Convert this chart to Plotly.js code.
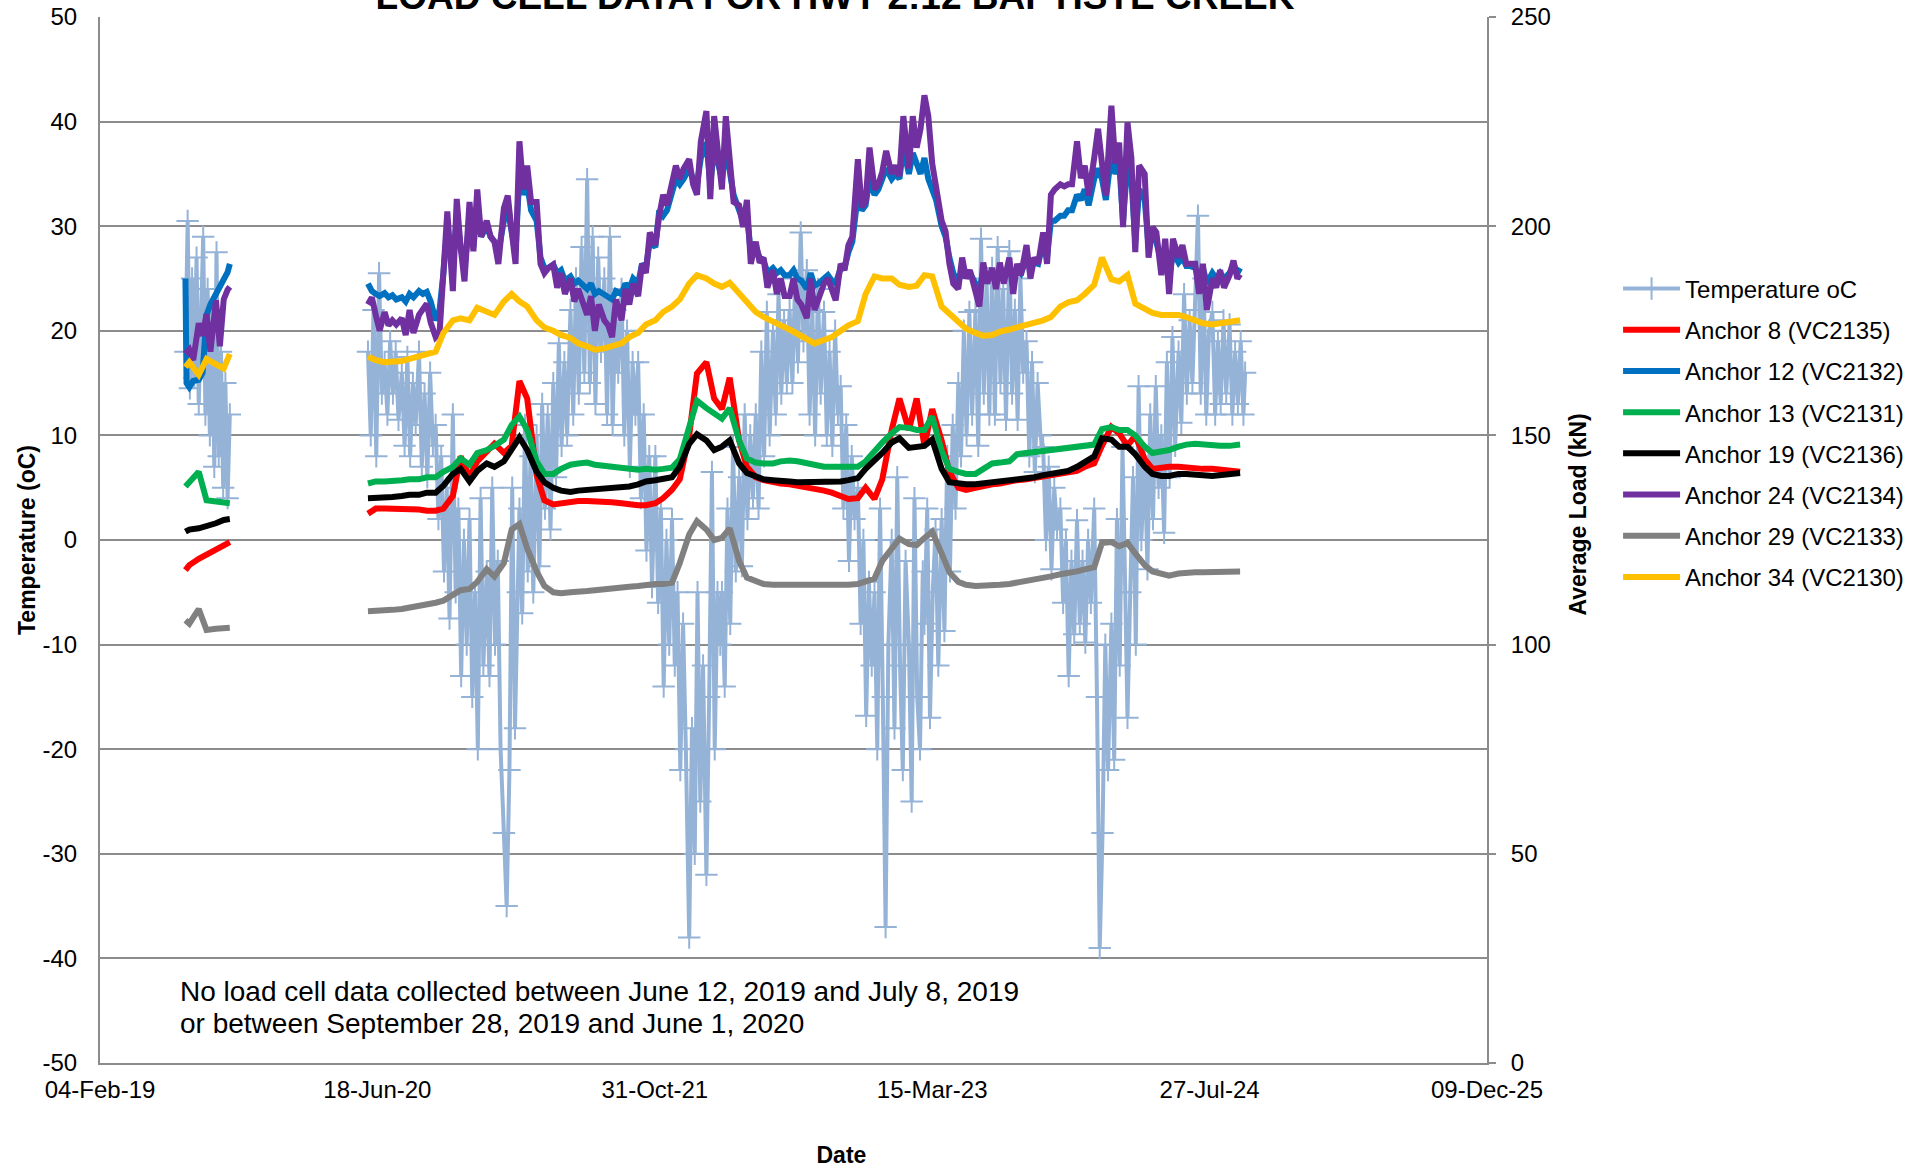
<!DOCTYPE html>
<html>
<head>
<meta charset="utf-8">
<script src="https://cdn.plot.ly/plotly-3.0.1.min.js"></script>
<style>html,body{margin:0;padding:0;background:#fff;}#chart{width:1925px;height:1173px;}</style>
</head>
<body>
<div id="chart"></div>
<script>
// ---------- Temperature (oC), left axis ----------
const tempDates = [
'2019-07-08','2019-07-12','2019-07-16','2019-07-20','2019-07-24','2019-07-28','2019-08-01','2019-08-05','2019-08-09','2019-08-13','2019-08-17','2019-08-21','2019-08-25','2019-08-29','2019-09-02','2019-09-06','2019-09-10','2019-09-14','2019-09-18','2019-09-22','2019-09-26',
'2020-01-01',
'2020-06-01','2020-06-06','2020-06-11','2020-06-16','2020-06-21','2020-06-26',
'2020-07-01','2020-07-06','2020-07-11','2020-07-16','2020-07-21','2020-07-26',
'2020-08-01','2020-08-06','2020-08-11','2020-08-16','2020-08-21','2020-08-26',
'2020-09-01','2020-09-06','2020-09-11','2020-09-16','2020-09-21','2020-09-26',
'2020-10-01','2020-10-06','2020-10-11','2020-10-16','2020-10-21','2020-10-26',
'2020-11-01','2020-11-06','2020-11-11','2020-11-16','2020-11-21','2020-11-26',
'2020-12-01','2020-12-06','2020-12-11','2020-12-16','2020-12-21','2020-12-26',
'2021-01-01','2021-01-06','2021-01-11','2021-01-16','2021-01-21','2021-01-26',
'2021-02-01','2021-02-06','2021-02-11','2021-02-16','2021-02-21','2021-02-26',
'2021-03-01','2021-03-06','2021-03-11','2021-03-16','2021-03-21','2021-03-26',
'2021-04-01','2021-04-06','2021-04-11','2021-04-16','2021-04-21','2021-04-26',
'2021-05-01','2021-05-06','2021-05-11','2021-05-16','2021-05-21','2021-05-26',
'2021-06-01','2021-06-06','2021-06-11','2021-06-16','2021-06-21','2021-06-26',
'2021-07-01','2021-07-06','2021-07-11','2021-07-16','2021-07-21','2021-07-26',
'2021-08-01','2021-08-06','2021-08-11','2021-08-16','2021-08-21','2021-08-26',
'2021-09-01','2021-09-06','2021-09-11','2021-09-16','2021-09-21','2021-09-26',
'2021-10-01','2021-10-06','2021-10-11','2021-10-16','2021-10-21','2021-10-26',
'2021-11-01','2021-11-06','2021-11-11','2021-11-16','2021-11-21','2021-11-26',
'2021-12-01','2021-12-06','2021-12-11','2021-12-16','2021-12-21','2021-12-26',
'2022-01-01','2022-01-06','2022-01-11','2022-01-16','2022-01-21','2022-01-26',
'2022-02-01','2022-02-06','2022-02-11','2022-02-16','2022-02-21','2022-02-26',
'2022-03-01','2022-03-06','2022-03-11','2022-03-16','2022-03-21','2022-03-26',
'2022-04-01','2022-04-06','2022-04-11','2022-04-16','2022-04-21','2022-04-26',
'2022-05-01','2022-05-06','2022-05-11','2022-05-16','2022-05-21','2022-05-26',
'2022-06-01','2022-06-06','2022-06-11','2022-06-16','2022-06-21','2022-06-26',
'2022-07-01','2022-07-06','2022-07-11','2022-07-16','2022-07-21','2022-07-26',
'2022-08-01','2022-08-06','2022-08-11','2022-08-16','2022-08-21','2022-08-26',
'2022-09-01','2022-09-06','2022-09-11','2022-09-16','2022-09-21','2022-09-26',
'2022-10-01','2022-10-06','2022-10-11','2022-10-16','2022-10-21','2022-10-26',
'2022-11-01','2022-11-06','2022-11-11','2022-11-16','2022-11-21','2022-11-26',
'2022-12-01','2022-12-06','2022-12-11','2022-12-16','2022-12-21','2022-12-26',
'2023-01-01','2023-01-06','2023-01-11','2023-01-16','2023-01-21','2023-01-26',
'2023-02-01','2023-02-06','2023-02-11','2023-02-16','2023-02-21','2023-02-26',
'2023-03-01','2023-03-06','2023-03-11','2023-03-16','2023-03-21','2023-03-26',
'2023-04-01','2023-04-06','2023-04-11','2023-04-16','2023-04-21','2023-04-26',
'2023-05-01','2023-05-06','2023-05-11','2023-05-16','2023-05-21','2023-05-26',
'2023-06-01','2023-06-06','2023-06-11','2023-06-16','2023-06-21','2023-06-26',
'2023-07-01','2023-07-06','2023-07-11','2023-07-16','2023-07-21','2023-07-26',
'2023-08-01','2023-08-06','2023-08-11','2023-08-16','2023-08-21','2023-08-26',
'2023-09-01','2023-09-06','2023-09-11','2023-09-16','2023-09-21','2023-09-26',
'2023-10-01','2023-10-06','2023-10-11','2023-10-16','2023-10-21','2023-10-26',
'2023-11-01','2023-11-06','2023-11-11','2023-11-16','2023-11-21','2023-11-26',
'2023-12-01','2023-12-06','2023-12-11','2023-12-16','2023-12-21','2023-12-26',
'2024-01-01','2024-01-06','2024-01-11','2024-01-16','2024-01-21','2024-01-26',
'2024-02-01','2024-02-06','2024-02-11','2024-02-16','2024-02-21','2024-02-26',
'2024-03-01','2024-03-06','2024-03-11','2024-03-16','2024-03-21','2024-03-26',
'2024-04-01','2024-04-06','2024-04-11','2024-04-16','2024-04-21','2024-04-26',
'2024-05-01','2024-05-06','2024-05-11','2024-05-16','2024-05-21','2024-05-26',
'2024-06-01','2024-06-06','2024-06-11','2024-06-16','2024-06-21','2024-06-26',
'2024-07-01','2024-07-06','2024-07-11','2024-07-16','2024-07-21','2024-07-26',
'2024-08-01','2024-08-06','2024-08-11','2024-08-16','2024-08-21','2024-08-26',
'2024-09-01','2024-09-06','2024-09-11','2024-09-16','2024-09-21','2024-09-26','2024-09-29'
];
const tempValues = [
18,30.5,14.5,25,15.5,27,13,22,29,12,24,10,22,7,27.5,8,18,5,15,4,12,
null,
18,10,22,8,25.5,14,
17,12,19,14,18,11.5,
16,9,17.5,8,15,11,
18,7,14,6,16,9,
11,2,8,-3,5,-7.5,
12,-5,3,-13,0,-10,
2,-15,-5,-20,4,-12,
-3,-13,5,-10,-2,-20,
-28,-35,-22,5,-18,-5,
3,-7,11,-3,8,-5,
10,-2.5,13,3,12,1,
15,6,18.8,9,17,10,
22,12,25,14,28,16,
34.5,15,29,13,27,18,
25,12,29,11,22,16,
24,10,20,7,17,12,
17,4,12,-1,8,-4.5,
8,-6,3,-14,0,-10,
2,-12,-5,-22,-8,-20,
-38,-18,-30,-5,-25,-12,
-32,-15,6.5,-20,-5,-10,
-5,-14,3,-8,8.9,-3,
6,-2.5,12,2,10,4,
12,3,18,8,21.8,10,
20,12,23.5,14,21,15,
22,15,25,17,29.4,19,
25.8,12,22,10,24,14,
21.8,10,18,9,20,12,
14.7,3,11,-2,8,2,
5,-8,0,-16.8,-4,-12,
-5,-20,3,-15,-37,-10,
0,-18,6,-12,-22,-2,
-10,-25,4,-15,-20,-3,
-8,3,-17,-5,1,-12,
2,-8.7,8,-3,11,3,
15,8,20,10,21.8,12,
22,9,28.8,14,25,12,
26,12,28,15,24,11.5,
27.6,14,22,11.5,25,16,
19,8,17,6.5,15,10,
8.9,0,7,-2.8,5,1,
3,-6,0,-13,-2,-9,
1.9,-8,-2,-9.8,0,-6,
3,-15,-39,-28,-10,-22,
-8,-21,2,-12,8.9,-5,
-17,-5,6,-10,14.7,0,
8,-2.8,12,2,14.7,5,
10,0.7,17,6,19.4,9,
18,11.2,23.5,14,21,15,
22,31,14,25,12,20,
21.8,12,19,13,21,14,
20.6,12,18,13,19,12,16
];

// ---------- Anchor loads (kN), right axis ----------
const halfDates = [
'2019-07-08','2019-07-15','2019-08-01','2019-08-15','2019-09-01','2019-09-15','2019-09-26',
'2020-01-01',
'2020-06-01','2020-06-15','2020-07-01','2020-07-15','2020-08-01','2020-08-15','2020-09-01','2020-09-15','2020-10-01','2020-10-15','2020-11-01','2020-11-15','2020-12-01','2020-12-15',
'2021-01-01','2021-01-15','2021-02-01','2021-02-15','2021-03-01','2021-03-15','2021-04-01','2021-04-15','2021-05-01','2021-05-15','2021-06-01','2021-06-15','2021-07-01','2021-07-15','2021-08-01','2021-08-15','2021-09-01','2021-09-15','2021-10-01','2021-10-15','2021-11-01','2021-11-15','2021-12-01','2021-12-15',
'2022-01-01','2022-01-15','2022-02-01','2022-02-15','2022-03-01','2022-03-15','2022-04-01','2022-04-15','2022-05-01','2022-05-15','2022-06-01','2022-06-15','2022-07-01','2022-07-15','2022-08-01','2022-08-15','2022-09-01','2022-09-15','2022-10-01','2022-10-15','2022-11-01','2022-11-15','2022-12-01','2022-12-15',
'2023-01-01','2023-01-15','2023-02-01','2023-02-15','2023-03-01','2023-03-15','2023-04-01','2023-04-15','2023-05-01','2023-05-15','2023-06-01','2023-06-15','2023-07-01','2023-07-15','2023-08-01','2023-08-15','2023-09-01','2023-09-15','2023-10-01','2023-10-15','2023-11-01','2023-11-15','2023-12-01','2023-12-15',
'2024-01-01','2024-01-15','2024-02-01','2024-02-15','2024-03-01','2024-03-15','2024-04-01','2024-04-15','2024-05-01','2024-05-15','2024-06-01','2024-06-15','2024-07-01','2024-07-15','2024-08-01','2024-08-15','2024-09-01','2024-09-15','2024-09-20'
];
const weekDates = [
'2019-07-08','2019-07-10','2019-07-15','2019-07-22','2019-08-01','2019-08-08','2019-08-15','2019-08-22','2019-09-01','2019-09-08','2019-09-15','2019-09-22','2019-09-26',
'2020-01-01',
'2020-06-01','2020-06-08','2020-06-15','2020-06-22','2020-07-01','2020-07-08','2020-07-15','2020-07-22','2020-08-01','2020-08-08','2020-08-15','2020-08-22','2020-09-01','2020-09-08','2020-09-15','2020-09-22','2020-10-01','2020-10-08','2020-10-15','2020-10-22','2020-11-01','2020-11-08','2020-11-15','2020-11-22','2020-12-01','2020-12-08','2020-12-15','2020-12-22',
'2021-01-01','2021-01-08','2021-01-15','2021-01-22','2021-02-01','2021-02-08','2021-02-15','2021-02-22','2021-03-01','2021-03-08','2021-03-15','2021-03-22','2021-04-01','2021-04-08','2021-04-15','2021-04-22','2021-05-01','2021-05-08','2021-05-15','2021-05-22','2021-06-01','2021-06-08','2021-06-15','2021-06-22','2021-07-01','2021-07-08','2021-07-15','2021-07-22','2021-08-01','2021-08-08','2021-08-15','2021-08-22','2021-09-01','2021-09-08','2021-09-15','2021-09-22','2021-10-01','2021-10-08','2021-10-15','2021-10-22','2021-11-01','2021-11-08','2021-11-15','2021-11-22','2021-12-01','2021-12-08','2021-12-15','2021-12-22',
'2022-01-01','2022-01-08','2022-01-15','2022-01-22','2022-02-01','2022-02-08','2022-02-15','2022-02-22','2022-03-01','2022-03-08','2022-03-15','2022-03-22','2022-04-01','2022-04-08','2022-04-15','2022-04-22','2022-05-01','2022-05-08','2022-05-15','2022-05-22','2022-06-01','2022-06-08','2022-06-15','2022-06-22','2022-07-01','2022-07-08','2022-07-15','2022-07-22','2022-08-01','2022-08-08','2022-08-15','2022-08-22','2022-09-01','2022-09-08','2022-09-15','2022-09-22','2022-10-01','2022-10-08','2022-10-15','2022-10-22','2022-11-01','2022-11-08','2022-11-15','2022-11-22','2022-12-01','2022-12-08','2022-12-15','2022-12-22',
'2023-01-01','2023-01-08','2023-01-15','2023-01-22','2023-02-01','2023-02-08','2023-02-15','2023-02-22','2023-03-01','2023-03-08','2023-03-15','2023-03-22','2023-04-01','2023-04-08','2023-04-15','2023-04-22','2023-05-01','2023-05-08','2023-05-15','2023-05-22','2023-06-01','2023-06-08','2023-06-15','2023-06-22','2023-07-01','2023-07-08','2023-07-15','2023-07-22','2023-08-01','2023-08-08','2023-08-15','2023-08-22','2023-09-01','2023-09-08','2023-09-15','2023-09-22','2023-10-01','2023-10-08','2023-10-15','2023-10-22','2023-11-01','2023-11-08','2023-11-15','2023-11-22','2023-12-01','2023-12-08','2023-12-15','2023-12-22',
'2024-01-01','2024-01-08','2024-01-15','2024-01-22','2024-02-01','2024-02-08','2024-02-15','2024-02-22','2024-03-01','2024-03-08','2024-03-15','2024-03-22','2024-04-01','2024-04-08','2024-04-15','2024-04-22','2024-05-01','2024-05-08','2024-05-15','2024-05-22','2024-06-01','2024-06-08','2024-06-15','2024-06-22','2024-07-01','2024-07-08','2024-07-15','2024-07-22','2024-08-01','2024-08-08','2024-08-15','2024-08-22','2024-09-01','2024-09-08','2024-09-15','2024-09-20'
];

const anchor8 = [
117.8,119,120.5,121.5,122.8,123.8,124.5,
null,
131.3,132.5,132.5,132.5,132.5,132.3,132.3,132,132,132.5,135.5,145,140,143.8,
146.3,148,145.8,147.5,163,158.8,140.5,134.5,133.5,133.8,134,134.3,134.3,134.3,134.3,134,133.8,133.5,133.3,133.3,133.8,135,137,139.5,
150,164.8,167.5,158.8,156.3,163.8,148.8,142.5,140,139.3,138.8,138.5,138.3,138,137.5,137.3,136.8,136.3,135.5,134.8,135,137.5,134.8,139.5,
151.3,158.8,151.3,158.8,147.5,156.3,148.8,141.3,137.5,137,137.5,138,138.3,138.5,139,139.3,139.5,139.8,140,140.3,140.5,141,141.5,142.5,
143.3,147.5,152,150.5,147.5,150,144.3,142,142.3,142.5,142.5,142.3,142.3,142,142,141.8,141.5,141.3,141.3
];
const anchor12 = [
187.5,162.5,161.5,163,163.3,165,178.8,181.3,183.8,185.8,187.5,189,191,
null,
186.3,184.5,183.8,183.3, 184,183,183.5,182.5, 183,182,183.8,183, 184.5,183.8,184.3,182, 177.5,180,188.8,200, 190,202.5,195,190, 201.3,195,205,197.5,
200,197.5,196.3,193.8, 201.3,203.8,198.8,193.8, 212.5,207.5,210,203.8, 201.3,192.5,190,190, 190.8,188.8,189.5,187, 188,186.3,187,186.3, 185,186.3,183.8,184.5, 183.8,183,182.5,184.5, 183.8,186.3,185,187.5, 186.3,191,190,196.3, 195,203.8,202.5,203.8, 207.5,211.3,210,211.3,
213.8,211.3,210,216.3, 220,210,218.8,215, 211.3,218.8,213.8,207.5, 203.8,201.3,202.5,193.8, 195,192.5,192,188.8, 190,188.8,189.5,188.3, 188.3,189.5,187.5,187, 185,188.8,185.8,186.3, 187.5,188.3,187,186.3, 190,190,193.8,196.3, 207.5,203.8,205,211.3, 207.5,208.8,211.3,213.8,
211.3,212.5,211.3,218.8, 212.5,217.5,215,212.5, 216.3,211.3,208.8,206.3, 200,197.5,192.5,188.8, 186.3,190,188.3,188.8, 186.3,185,188.8,187.5, 188.8,187.5,189.5,187.5, 190,187.5,190,188.8, 192,190,191.3,191, 196.3,192.5,201.3,201.3, 202.5,202.5,203.8,203.8, 207.5,206.3,208.8,205,
211.3,213.8,211.3,206.3, 217.5,212.5,215,201.3, 215,211.3,196.3,208.8, 206.3,195,197.5,196.3, 191.3,193.8,187.5,193.8, 191.3,192.5,190.5,190.5, 190,187.5,190,186.3, 188.8,187.5,188.8,187.5, 188.8,190.8,188.8,190
];
const anchor13 = [
137.8,138.8,141.3,134.5,134.3,134,133.8,
null,
138.5,139,139,139.3,139.3,139.5,139.5,140,140,141.3,142.5,144.5,143,145.8,
146.5,147.5,149,152.5,154.5,151.3,143.8,140.8,140.8,142,143,143.3,143.5,143,142.8,142.5,142.3,142,141.8,142,141.8,142,142.3,144.3,
152.5,158.3,156.5,155.3,154,156.5,148.8,144.5,143.5,143.3,143.3,143.8,144,143.8,143.3,142.8,142.5,142.5,142.5,142.5,142.5,143.8,146.5,148.3,
150.5,152,151.8,151.3,151.3,154.5,146.3,142,141.3,140.8,140.8,142,143.3,143.5,143.8,145.5,145.8,146,146.3,146.5,146.8,147.3,147.3,147.5,
147.8,151.5,152,151.3,151.3,150,147.3,145.8,146,146.5,147.3,147.8,148,147.8,147.5,147.5,147.5,147.8,147.8
];
const anchor19 = [
127,127.5,127.8,128.3,129,129.8,130,
null,
135,135,135,135.3,135.5,135.8,135.8,136.3,136.3,138,140.8,142,139,141.5,
143.3,142.5,143.8,147,149.5,146.5,141.3,138.8,137.5,136.8,136.5,136.8,137,137,137.3,137.3,137.5,137.8,138.3,139,139.3,139.5,140,142.5,
148,150.3,148.8,146.5,147.3,148.8,143.3,141,140,139.5,139.3,139,139,138.8,138.8,138.8,138.8,139,139,139.3,139.8,142,143.8,145.8,
148.3,149.3,147,147.3,147.5,149,142,138.8,138.5,138.3,138.3,138.5,138.8,139,139.3,139.5,139.8,140,140.5,140.8,141,141.5,142.5,143.5,
145,149.3,149,147.3,147.3,145.5,142.5,140.8,140.3,140.3,140.8,140.8,140.5,140.5,140.3,140.5,140.8,141,141
];
const anchor24 = [
169.5,170,170.5,168,176.8,173.8,179,170,182.3,171.3,182.5,184.8,185.5,
null,
181.3,183,178.8,175, 179.5,176.3,177.5,176.5, 178,174,180,174.5, 178.8,180,181.5,177, 173.5,174.5,190,203.5, 184.5,206.5,195,186.8, 205.8,194,208.8,197.5,
201.3,197.5,196.3,191, 204.3,207.3,198.8,191, 220.3,208.8,214.5,205.8, 205.8,191,188.8,190, 190.8,185.3,188.8,183.8, 187.5,182,185,182.5, 178.8,183.3,175,181.3, 177.5,176.3,173.5,182.5, 177.5,185,181.3,186.3, 183.3,191,188.8,198.5, 195.5,202.5,207.5,205, 210,214.5,211.3,213.8,
216,210,207.5,220.3, 227.5,206.5,226.3,217.5, 208.8,226.3,215,205.8, 205,199.8,206.3,191, 196.3,191.3,192.5,185.3, 189.5,183.8,187.5,183.3, 183.3,187.5,182.5,181.3, 178,187.5,180,182.5, 186.3,187.5,185,182.3, 191,189.5,195.5,197.5, 216,204.5,205.8,218.8, 208.8,210,213,218,
212.5,214.5,212,226.3, 213.8,226.3,218.8,223.3, 231.3,226.3,215,208.8, 201.3,198.8,191,186.3, 185,192.5,187.5,189.5, 183.5,180.8,191.3,186.3, 190,185,191.3,186.3, 192.5,183.8,191,188.3, 195.5,187.5,192.5,191, 198.5,191,207.5,208.8, 210,209.5,210,210, 220.3,211.5,214.5,207.3,
216.3,223.3,215,207.3, 228.8,215,220,199.8, 224.8,216.3,193.8,214.5, 212.5,192.5,199.8,198.5, 188.3,197,183.8,197, 192.5,195.5,191,191, 191,183.8,191,180, 187.5,185.3,189.5,185.3, 188.3,191.8,187.5,188.5
];
const anchor29 = [
105.8,105,108.5,103.5,103.8,103.8,104,
null,
108,108,108.3,108.3,108.5,108.8,109.3,109.8,110,110.5,111.8,113,113.3,115,
118,116.3,119.5,127.5,128.8,123,117.5,114,112.5,112.3,112.5,112.5,112.8,113,113.3,113.5,113.5,113.8,114,114.3,114.5,114.5,114.8,119.5,
126.3,129.5,127.5,125,125.5,127.8,120,116,115,114.5,114.3,114.3,114,114,114,114,114,114,114.3,114.3,114.5,115,115.8,120,
122.8,125.3,124,123.8,125.5,127,121.8,117.3,115,114.3,114,114,114,114.3,114.5,114.8,115,115.5,115.8,116.3,116.8,117,117.5,118,
118.5,124.3,124.5,123.5,124.3,121.8,119,117.5,116.8,116.5,117,117.3,117.3,117.3,117.3,117.3,117.5,117.5,117.5
];
const anchor34 = [
166.3,167.5,164.5,168.3,167,166,169.5,
null,
168.8,168,167.5,167.5,167.8,168.3,168.8,169.5,170,174.5,177.5,178,177.5,180.5,
179.5,178.8,182,183.8,182,180.8,177.5,175.8,175,174,173.3,172,171.3,170.5,170.8,171.3,172,173.5,174.5,176.5,177.5,179.5,180.8,182.5,
186.3,188.3,187.5,186.3,185.5,186.5,183.8,182,179.5,178.3,177,176.3,175.3,174.3,173.3,172,172.8,173.5,175,176.3,177.3,183.8,188,187.5,
187.5,186,185.5,185.8,188.3,188,180.8,179,176.8,175.5,174.5,173.8,174,174.8,175.3,175.8,176.3,177,177.5,178.3,180.8,181.8,182.3,183.8,
186,192.5,187.3,186.8,188.3,181.5,180.5,179.3,178.8,178.8,178.8,178.3,177.5,176.8,176.5,176.8,177,177.3,177.5
];

const xTickVals = ['2019-02-04','2020-06-18','2021-10-31','2023-03-15','2024-07-27','2025-12-09'];
const yTickVals = [-50,-40,-30,-20,-10,0,10,20,30,40,50];
const yTickText = ['-50','-40','-30','-20','-10','0','10','20','30','40','50'];
const seriesNames = ['Anchor 8 (VC2135)','Anchor 12 (VC2132)','Anchor 13 (VC2131)','Anchor 19 (VC2136)','Anchor 24 (VC2134)','Anchor 29 (VC2133)','Anchor 34 (VC2130)'];
const seriesColors = ['#FF0000','#0070C0','#00B050','#000000','#7030A0','#808080','#FFC000'];
const noteLines = ['No load cell data collected between June 12, 2019 and July 8, 2019','or between September 28, 2019 and June 1, 2020'];

const FONT = 'Liberation Sans, Arial, sans-serif';
const GRID = '#8C8C8C';
const ZW = '\u200B';
const NB = '\u00A0';

const loadX = [halfDates, weekDates, halfDates, halfDates, weekDates, halfDates, halfDates];
const loadY = [anchor8, anchor12, anchor13, anchor19, anchor24, anchor29, anchor34];

const traces = [{
  name: 'Temperature oC', x: tempDates, y: tempValues, yaxis: 'y',
  type: 'scatter', mode: 'lines+markers', connectgaps: false,
  line: {color: '#95B3D7', width: 4},
  marker: {symbol: 'cross-thin', size: 16, color: '#95B3D7', line: {width: 2, color: '#95B3D7'}},
  legendgroup: 'g0', hoverinfo: 'x+y'
}];
for (let i = 0; i < seriesNames.length; i++) {
  traces.push({
    name: seriesNames[i], x: loadX[i], y: loadY[i], yaxis: 'y2',
    type: 'scatter', mode: 'lines', connectgaps: false,
    line: {color: seriesColors[i], width: 6},
    legendgroup: 'g' + (i + 1)
  });
}

const layout = {
  width: 1925, height: 1173,
  margin: {l: 100, r: 438, t: 17, b: 110, pad: 0},
  paper_bgcolor: '#ffffff', plot_bgcolor: '#ffffff',
  font: {family: FONT, size: 24, color: '#000000'},
  title: {
    text: 'LOAD CELL DATA FOR HWY 2:12 BAPTISTE CREEK',
    font: {family: FONT, size: 37, weight: 'bold', color: '#000000'},
    xref: 'container', x: 0.4338, xanchor: 'center',
    yref: 'container', y: 0.9923, yanchor: 'bottom'
  },
  xaxis: {
    type: 'date', range: ['2019-02-04', '2025-12-09'],
    tickmode: 'array', tickvals: xTickVals, tickformat: '%d-%b-%y',
    showgrid: false, zeroline: false, showline: true, linecolor: GRID, linewidth: 2,
    ticks: '', ticklabelstandoff: 4, tickfont: {family: FONT, size: 24, color: '#000'},
    title: {text: ZW + NB.repeat(15) + 'Date', font: {family: FONT, size: 23, weight: 'bold', color: '#000'}, standoff: 45},
    automargin: false
  },
  yaxis: {
    range: [-50, 50], tickmode: 'array', tickvals: yTickVals, ticktext: yTickText,
    showgrid: true, gridcolor: GRID, gridwidth: 1.6,
    zeroline: false, showline: true, linecolor: GRID, linewidth: 2,
    ticks: '', ticklabelstandoff: 16, tickfont: {family: FONT, size: 24, color: '#000'},
    title: {text: 'Temperature (oC)', font: {family: FONT, size: 23, weight: 'bold', color: '#000'}, standoff: 0},
    automargin: false
  },
  yaxis2: {
    range: [0, 250], tick0: 0, dtick: 50, overlaying: 'y', side: 'right',
    showgrid: false, zeroline: false, showline: true, linecolor: GRID, linewidth: 2,
    ticks: 'outside', ticklen: 7, tickwidth: 1.6, tickcolor: GRID,
    ticklabelstandoff: 10, tickfont: {family: FONT, size: 24, color: '#000'},
    title: {text: ZW + NB.repeat(8) + 'Average Load (kN)', font: {family: FONT, size: 23, weight: 'bold', color: '#000'}, standoff: 20},
    automargin: false
  },
  showlegend: true,
  legend: {
    x: 1.0945, xanchor: 'left', y: 0.7615, yanchor: 'top',
    font: {family: FONT, size: 24, color: '#000'},
    itemwidth: 57, tracegroupgap: 7, bgcolor: 'rgba(0,0,0,0)', borderwidth: 0
  },
  annotations: [
    {text: noteLines[0], xref: 'paper', yref: 'paper', x: 0.056, y: 0.0688, xanchor: 'left', yanchor: 'middle', showarrow: false, font: {family: FONT, size: 28, color: '#000'}},
    {text: noteLines[1], xref: 'paper', yref: 'paper', x: 0.056, y: 0.0373, xanchor: 'left', yanchor: 'middle', showarrow: false, font: {family: FONT, size: 28, color: '#000'}}
  ]
};

Plotly.newPlot('chart', traces, layout, {displayModeBar: false, responsive: false});
</script>
</body>
</html>
